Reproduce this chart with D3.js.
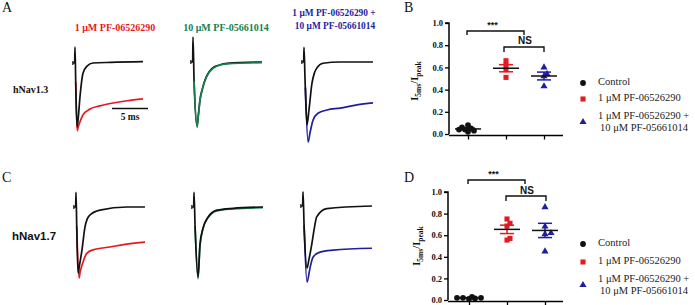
<!DOCTYPE html>
<html><head><meta charset="utf-8">
<script src="https://cdn.jsdelivr.net/npm/d3@7"></script>
<style>body{margin:0;background:#fff}svg{display:block}</style>
</head><body>
<svg id="c" width="695" height="305"></svg>
<script>
// ---------------- DATA ----------------
const groups = ["Control", "1 μM PF-06526290", "1 μM PF-06526290 + 10 μM PF-05661014"];
const yTickValues = [0, 0.2, 0.4, 0.6, 0.8, 1.0];

// I5ms/Ipeak values, hNav1.3 (panel B)
const nav13Control = [0.08, 0.06, 0.05, 0.04, 0.04, 0.03, 0.02];
const nav13PF065 = [0.66, 0.62, 0.58, 0.51];
const nav13Combo = [0.60, 0.54, 0.52, 0.43];
// I5ms/Ipeak values, hNav1.7 (panel D)
const nav17Control = [0.03, 0.02, 0.02, 0.015, 0.01, 0.02];
const nav17PF065 = [0.75, 0.71, 0.685, 0.57, 0.555];
const nav17Combo = [0.86, 0.68, 0.62, 0.61, 0.45];

// Current traces: [time (ms), normalized current]
const a1Control = [[-0.3,0],[-0.05,0],[0,0.25],[0.1,-0.3],[0.28,-1.0],[0.45,-0.86],[0.69,-0.53],[1.11,-0.16],[1.67,-0.05],[2.5,0],[5,0.01],[9.44,0.02]];
const a1Drug = [[0.1,-0.3],[0.3,-1.06],[0.5,-0.98],[0.69,-0.92],[1.11,-0.81],[2.08,-0.72],[3.47,-0.67],[5.28,-0.625],[7.22,-0.59],[9.44,-0.56]];
const a2Control = [[-0.3,0],[-0.05,0],[0,0.39],[0.15,-0.3],[0.56,-1.0],[0.75,-0.82],[0.97,-0.59],[1.3,-0.42],[1.67,-0.28],[2.2,-0.16],[2.78,-0.09],[3.6,-0.05],[4.72,-0.02],[9.58,0]];
const a2Drug = [[0.15,-0.3],[0.56,-1.02],[0.75,-0.84],[0.97,-0.6],[1.3,-0.43],[1.67,-0.29],[2.2,-0.17],[2.78,-0.1],[3.6,-0.05],[4.72,-0.03],[9.58,-0.01]];
const a3Control = [[-0.3,0],[-0.05,0],[0,0.23],[0.15,-0.3],[0.42,-0.98],[0.69,-0.75],[1.11,-0.33],[1.45,-0.17],[1.81,-0.09],[2.64,-0.02],[5,0],[9.58,0]];
const a3Drug = [[0.2,-0.4],[0.56,-1.25],[0.83,-1.11],[1.25,-0.91],[1.94,-0.80],[3.19,-0.75],[5.0,-0.72],[7.36,-0.67],[9.58,-0.64]];
const c1Control = [[-0.3,0],[-0.05,0],[0,0.23],[0.1,-0.3],[0.28,-1.03],[0.5,-0.9],[0.83,-0.67],[1.25,-0.31],[1.55,-0.19],[1.94,-0.125],[3.33,-0.05],[7.08,0],[9.58,0]];
const c1Drug = [[0.1,-0.3],[0.42,-1.11],[0.6,-1.0],[0.83,-0.91],[1.53,-0.72],[2.36,-0.67],[4.72,-0.625],[7.08,-0.58],[9.58,-0.55]];
const c2Control = [[-0.3,0],[-0.05,0],[0,0.23],[0.15,-0.3],[0.56,-1.09],[0.83,-0.59],[1.25,-0.33],[1.94,-0.16],[3.19,-0.05],[5.42,-0.02],[9.58,0]];
const c2Drug = [[0.15,-0.3],[0.56,-1.12],[0.83,-0.6],[1.25,-0.34],[1.94,-0.17],[3.19,-0.06],[5.42,-0.03],[9.58,-0.01]];
const c3Control = [[-0.3,0],[-0.05,0],[0,0.22],[0.15,-0.3],[0.56,-0.97],[0.8,-0.85],[1.2,-0.61],[1.6,-0.33],[1.9,-0.17],[3.3,-0.04],[9.58,0]];
const c3Drug = [[0.15,-0.3],[0.56,-1.19],[0.97,-0.97],[1.39,-0.80],[2.36,-0.72],[4.17,-0.69],[9.58,-0.66]];

// ---------------- STYLE ----------------
const RED = "#e41a22", GREEN = "#16804f", BLUE = "#1f1f9e", BLACK = "#111";
const SERIF = "'Liberation Serif','Times New Roman',serif";
const SANS = "'Liberation Sans',Arial,sans-serif";

const svg = d3.select("#c");

function text(x, y, s, o = {}) {
  return svg.append("text").attr("x", x).attr("y", y).text(s)
    .attr("font-family", o.family || SERIF).attr("font-size", o.size || 10)
    .attr("font-weight", o.weight || "normal").attr("fill", o.fill || BLACK)
    .attr("text-anchor", o.anchor || "start").attr("dominant-baseline", "middle");
}

// Panel letters
text(2, 9, "A", {size: 14});
text(404, 9, "B", {size: 14});
text(2, 179, "C", {size: 14});
text(404, 179, "D", {size: 14});

// Row labels
text(13, 91, "hNav1.3", {size: 10, weight: "bold"});
text(12, 237, "hNav1.7", {size: 11.5, weight: "bold", family: SANS});

// Condition titles
text(115, 29, "1 μM PF-06526290", {size: 10, weight: "bold", fill: RED, anchor: "middle"});
text(226, 29, "10 μM PF-05661014", {size: 10, weight: "bold", fill: GREEN, anchor: "middle"});
text(334, 14, "1 μM PF-06526290 +", {size: 9.4, weight: "bold", fill: BLUE, anchor: "middle"});
text(335, 27, "10 μM PF-05661014", {size: 9.4, weight: "bold", fill: BLUE, anchor: "middle"});

// ---------------- TRACES ----------------
const PX_PER_MS = 7.2, PX_PER_UNIT = 64;
const tracePanels = [
  {x0: 75, base: 63, ctrl: a1Control, drug: a1Drug, color: RED, drugOnTop: false},
  {x0: 193, base: 62, ctrl: a2Control, drug: a2Drug, color: GREEN, drugOnTop: true},
  {x0: 304, base: 62, ctrl: a3Control, drug: a3Drug, color: BLUE, drugOnTop: false},
  {x0: 76, base: 207, ctrl: c1Control, drug: c1Drug, color: RED, drugOnTop: false},
  {x0: 194, base: 207, ctrl: c2Control, drug: c2Drug, color: GREEN, drugOnTop: false},
  {x0: 303, base: 206, ctrl: c3Control, drug: c3Drug, color: BLUE, drugOnTop: false},
];
tracePanels.forEach(p => {
  const x = d3.scaleLinear().domain([0, 10]).range([p.x0, p.x0 + 10 * PX_PER_MS]);
  const y = d3.scaleLinear().domain([0, -1]).range([p.base, p.base + PX_PER_UNIT]);
  const line = d3.line().x(d => x(d[0])).y(d => y(d[1])).curve(d3.curveMonotoneX);
  const g = svg.append("g");
  const drawDrug = () => g.append("path").attr("d", line(p.drug)).attr("fill", "none")
    .attr("stroke", p.color).attr("stroke-width", 1.7).attr("stroke-linejoin", "round");
  const drawCtrl = () => g.append("path").attr("d", line(p.ctrl)).attr("fill", "none")
    .attr("stroke", BLACK).attr("stroke-width", 1.7).attr("stroke-linejoin", "round");
  if (p.drugOnTop) { drawCtrl(); drawDrug(); } else { drawDrug(); drawCtrl(); }
  // small baseline mark left of the transient
  g.append("line").attr("x1", x(-0.3)).attr("x2", x(-0.3)).attr("y1", y(0.03)).attr("y2", y(-0.03))
    .attr("stroke", BLACK).attr("stroke-width", 1.2);
});

// scale bar 5 ms
{
  const x = d3.scaleLinear().domain([0, 10]).range([112, 112 + 10 * PX_PER_MS]);
  svg.append("line").attr("x1", x(0)).attr("x2", x(5)).attr("y1", 108.5).attr("y2", 108.5)
    .attr("stroke", BLACK).attr("stroke-width", 1.6);
  text(x(2.5), 118, "5 ms", {size: 9.5, weight: "bold", anchor: "middle"});
}

// ---------------- SCATTER PANELS ----------------
const scatterPanels = [
  {y0: 134, y1: 23, ax: 449, xEnd: 563, xs: [468, 544], data: [nav13Control, nav13PF065, nav13Combo],
   title: 81, titleX: 418,
   star: {x1: 467, x2: 524, top: 31, drop: 35, ty: 26},
   ns: {x1: 504, x2: 544, top: 47, drop: 52, ty: 41},
   legend: [83, 99, 122]},
  {y0: 300, y1: 192, ax: 448, xEnd: 563, xs: [469, 545], data: [nav17Control, nav17PF065, nav17Combo],
   title: 246, titleX: 420,
   star: {x1: 468, x2: 525, top: 180, drop: 184, ty: 175},
   ns: {x1: 506, x2: 546, top: 196, drop: 201, ty: 191},
   legend: [244, 262, 285]},
];
const colors = [BLACK, RED, BLUE];
const symbols = [d3.symbolCircle, d3.symbolSquare, d3.symbolTriangle];
const symSizes = [26, 26, 22];

scatterPanels.forEach(p => {
  const y = d3.scaleLinear().domain([0, 1]).range([p.y0, p.y1]);
  const x = d3.scalePoint().domain(groups).range(p.xs);
  // y axis
  const ya = svg.append("g").attr("transform", `translate(${p.ax},0)`)
    .call(d3.axisLeft(y).tickValues(yTickValues).tickFormat(d3.format(".1f")).tickSize(4).tickPadding(2));
  ya.select(".domain").attr("stroke-width", 1.5).attr("d", `M-4,${y(1)}H0V${y(0)}`);
  ya.selectAll(".tick line").attr("stroke-width", 1.3);
  ya.selectAll("text").attr("font-family", SERIF).attr("font-weight", "bold").attr("font-size", 8.5).attr("fill", BLACK);
  // x axis
  const xa = svg.append("g").attr("transform", `translate(0,${p.y0 + 1.5})`)
    .call(d3.axisBottom(x).tickSize(4).tickFormat(""));
  xa.select(".domain").attr("d", `M${p.ax},0H${p.xEnd}`).attr("stroke-width", 1.5);
  xa.selectAll(".tick line").attr("stroke-width", 1.3);

  // y title: I5ms/Ipeak
  const t = svg.append("text").attr("transform", `translate(${p.titleX},${p.title}) rotate(-90)`)
    .attr("text-anchor", "middle").attr("font-family", SERIF).attr("font-weight", "bold")
    .attr("font-size", 10.5).attr("fill", BLACK);
  t.append("tspan").text("I");
  t.append("tspan").text("5ms").attr("font-size", 7.5).attr("dy", 3);
  t.append("tspan").text("/I").attr("dy", -3);
  t.append("tspan").text("peak").attr("font-size", 7.5).attr("dy", 3);

  // points, mean, SEM
  p.data.forEach((vals, gi) => {
    const cx = x(groups[gi]);
    const col = colors[gi];
    // simple beeswarm placement
    const placed = [];
    const sorted = vals.map(v => v).sort((a, b) => a - b);
    const step = 3, minD = 3.3;
    sorted.forEach(v => {
      const py = y(v);
      let off = 0;
      for (let k = 0; k < 12; k++) {
        const cand = k === 0 ? 0 : (k % 2 ? 1 : -1) * Math.ceil(k / 2) * step;
        if (placed.every(q => Math.hypot(q[0] - (cx + cand), q[1] - py) >= minD)) { off = cand; break; }
      }
      placed.push([cx + off, py]);
    });
    svg.append("g").selectAll("path").data(placed).join("path")
      .attr("transform", d => `translate(${d[0]},${d[1]})`)
      .attr("d", d3.symbol(symbols[gi], symSizes[gi])).attr("fill", col);
    const m = d3.mean(vals);
    const sem = d3.deviation(vals) / Math.sqrt(vals.length);
    // SEM bar
    svg.append("line").attr("x1", cx).attr("x2", cx).attr("y1", y(m + sem)).attr("y2", y(m - sem))
      .attr("stroke", col).attr("stroke-width", 1.5);
    [m + sem, m - sem].forEach(v => svg.append("line").attr("x1", cx - 7).attr("x2", cx + 7)
      .attr("y1", y(v)).attr("y2", y(v)).attr("stroke", col).attr("stroke-width", 1.5));
    // mean
    svg.append("line").attr("x1", cx - 13).attr("x2", cx + 13).attr("y1", y(m)).attr("y2", y(m))
      .attr("stroke", BLACK).attr("stroke-width", 1.5);
  });

  // significance brackets
  [p.star, p.ns].forEach((b, i) => {
    svg.append("path").attr("d", `M${b.x1},${b.drop}V${b.top}H${b.x2}V${b.drop}`)
      .attr("fill", "none").attr("stroke", BLACK).attr("stroke-width", 1.4);
    if (i === 0) text((b.x1 + b.x2) / 2 - 3, b.ty, "***", {size: 9, weight: "bold", anchor: "middle", family: SANS});
    else text((b.x1 + b.x2) / 2 + 1, b.ty, "NS", {size: 10, weight: "bold", anchor: "middle", family: SANS});
  });

  // legend
  const lx = 583, tx = 598;
  p.legend.forEach((ly, gi) => {
    svg.append("path").attr("transform", `translate(${lx},${ly})`)
      .attr("d", d3.symbol(symbols[gi], symSizes[gi])).attr("fill", colors[gi]);
  });
  text(tx, p.legend[0], groups[0], {size: 10.5, fill: "#222"});
  text(tx, p.legend[1], groups[1], {size: 10.5, fill: "#222"});
  text(tx, p.legend[2] - 5, "1 μM PF-06526290 +", {size: 10.5, fill: "#222"});
  text(tx + 2, p.legend[2] + 7, "10 μM PF-05661014", {size: 10.5, fill: "#222"});
});
</script>
</body></html>
